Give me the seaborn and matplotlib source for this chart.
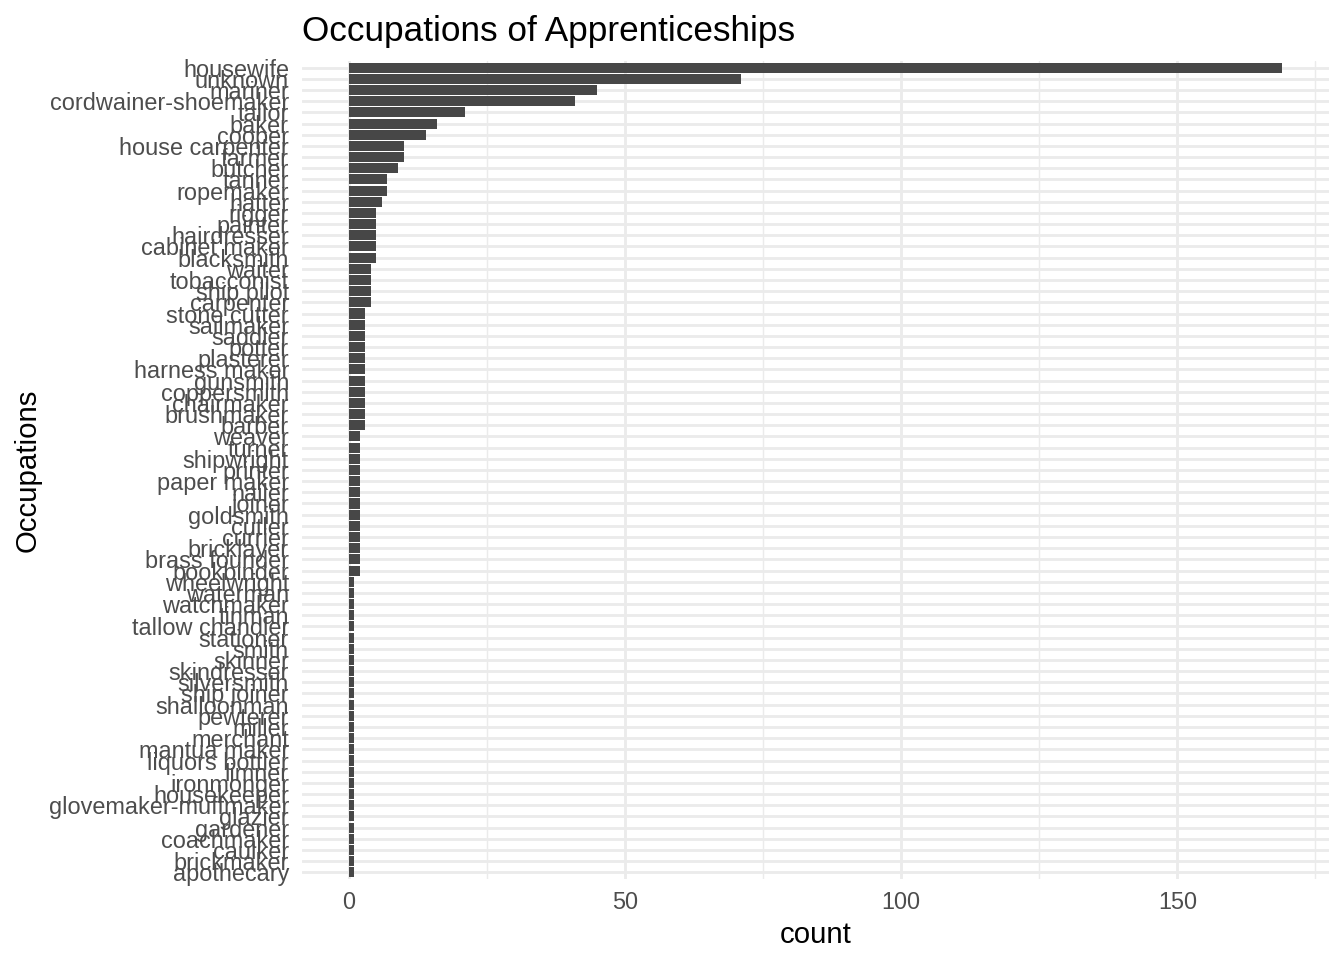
import matplotlib
matplotlib.use("Agg")
import matplotlib.pyplot as plt
import seaborn as sns
import pandas as pd
from matplotlib.ticker import MultipleLocator

occupations = [
    "housewife", "unknown", "mariner", "cordwainer-shoemaker", "tailor", "baker",
    "cooper", "house carpenter", "farmer", "butcher", "tanner", "ropemaker",
    "hatter", "rigger", "painter", "hairdresser", "cabinet maker", "blacksmith",
    "waiter", "tobacconist", "ship pilot", "carpenter",
    "stone cutter", "sailmaker", "saddler", "potter", "plasterer", "harness maker",
    "gunsmith", "coppersmith", "chairmaker", "brushmaker", "barber",
    "weaver", "turner", "shipwright", "printer", "paper maker", "nailer", "joiner",
    "goldsmith", "cutler", "currier", "bricklayer", "brass founder", "bookbinder",
    "wheelwright", "waterman", "watchmaker", "tinman", "tallow chandler",
    "stationer", "smith", "skinner", "skindresser", "silversmith", "ship joiner",
    "shalloonman", "pewterer", "miller", "merchant", "mantua maker",
    "liquors bottler", "limner", "ironmonger", "housekeeper",
    "glovemaker-muffmaker", "glazier", "gardener", "coachmaker", "caulker",
    "brickmaker", "apothecary",
]
counts = [
    169, 71, 45, 41, 21, 16,
    14, 10, 10, 9, 7, 7,
    6, 5, 5, 5, 5, 5,
    4, 4, 4, 4,
    3, 3, 3, 3, 3, 3,
    3, 3, 3, 3, 3,
    2, 2, 2, 2, 2, 2, 2,
    2, 2, 2, 2, 2, 2,
    1, 1, 1, 1, 1,
    1, 1, 1, 1, 1, 1,
    1, 1, 1, 1, 1,
    1, 1, 1, 1,
    1, 1, 1, 1, 1,
    1, 1,
]

df = pd.DataFrame({"Occupations": occupations, "count": counts})

sns.set_theme(style="white")
plt.rcParams["font.family"] = ["Liberation Sans", "DejaVu Sans"]

fig, ax = plt.subplots(figsize=(7, 5), dpi=192)
fig.subplots_adjust(left=0.2247, right=0.9888, top=0.9365, bottom=0.0844)

sns.barplot(data=df, x="count", y="Occupations", order=occupations,
            color="#474747", saturation=1, width=0.9, orient="h", ax=ax,
            linewidth=0, edgecolor="none", zorder=3)

n = len(occupations)
ax.set_ylim(n - 1 + 0.6, -0.6)
xmax = max(counts)
ax.set_xlim(-0.05 * xmax, 1.05 * xmax)

ax.xaxis.set_major_locator(MultipleLocator(50))
ax.xaxis.set_minor_locator(MultipleLocator(25))
ax.set_axisbelow(True)
ax.grid(which="major", axis="both", color="#EBEBEB", linewidth=1.07, zorder=0)
ax.grid(which="minor", axis="x", color="#EBEBEB", linewidth=0.53, zorder=0)
for s in ax.spines.values():
    s.set_visible(False)

ax.tick_params(axis="y", length=0, pad=4.9, labelsize=8.8, labelcolor="#4D4D4D")
ax.tick_params(axis="x", which="both", length=0, pad=4.5, labelsize=8.8,
               labelcolor="#4D4D4D")

ax.set_xlabel("count", fontsize=11, color="black", labelpad=2.5)
ax.set_ylabel("Occupations", fontsize=11, color="black", labelpad=2.5)
ax.set_title("Occupations of Apprenticeships", loc="left", fontsize=13.2,
             color="black", pad=7.5)

fig.savefig("out.png", dpi=192)
